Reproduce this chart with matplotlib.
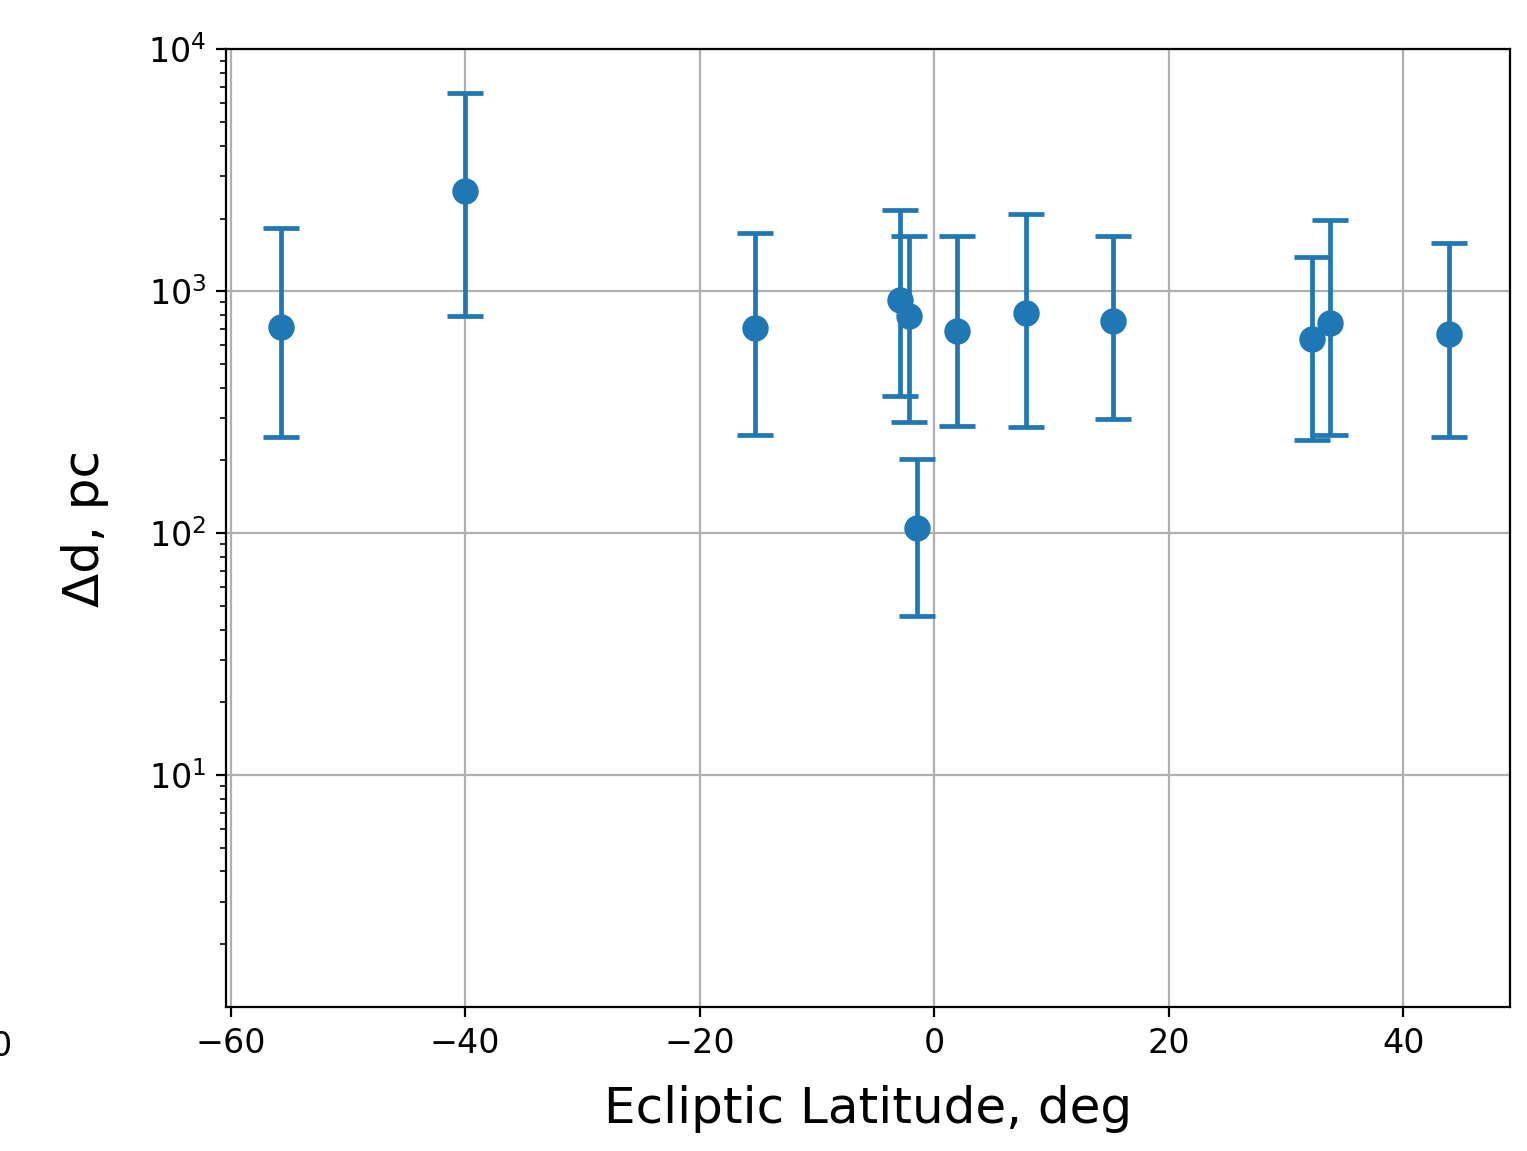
import numpy as np
import matplotlib
matplotlib.use("Agg")
import matplotlib.pyplot as plt

# ecliptic latitude (deg) and distance spread (pc)
lat = [-55.7, -40.0, -15.3, -2.9, -2.2, -1.45, 1.9, 7.85, 15.2, 32.2, 33.7, 43.9]
dd = [716, 2590, 703, 918, 788, 105, 683, 811, 752, 633, 738, 664]
dd_hi = [1820, 6580, 1737, 2163, 1687, 202, 1687, 2080, 1687, 1382, 1964, 1580]
dd_lo = [250, 788, 254, 368, 288, 45.4, 279, 274, 296, 242, 254, 250]

xticks = [-60, -40, -20, 0, 20, 40]

dd = np.array(dd)
err = [dd - np.array(dd_lo), np.array(dd_hi) - dd]

fig = plt.figure(figsize=(7.635, 5.755), dpi=200)
ax = fig.add_axes([0.148, 0.125, 0.841, 0.832])

ax.errorbar(lat, dd, yerr=err, fmt='o', color='#1f77b4', ms=8.5,
            elinewidth=1.7, capsize=6.5, capthick=1.7)

ax.set_yscale('log')
ax.set_ylim(1.1, 1e4)
ax.set_xlim(-60.4, 49.1)
ax.set_xticks(xticks)
ax.grid(True, which='major', color='#b0b0b0', lw=0.8)
ax.set_axisbelow(True)

ax.set_xlabel('Ecliptic Latitude, deg', fontsize=18, labelpad=9)
ax.set_ylabel('Δd, pc', fontsize=18, labelpad=14)
ax.tick_params(labelsize=12)

# leftover tick label from a neighbouring panel, clipped at the edge
fig.text(-0.006, 1 - 1047 / 1151, '0', fontsize=12, va='center', ha='left')

fig.savefig('out.png', dpi=200)
